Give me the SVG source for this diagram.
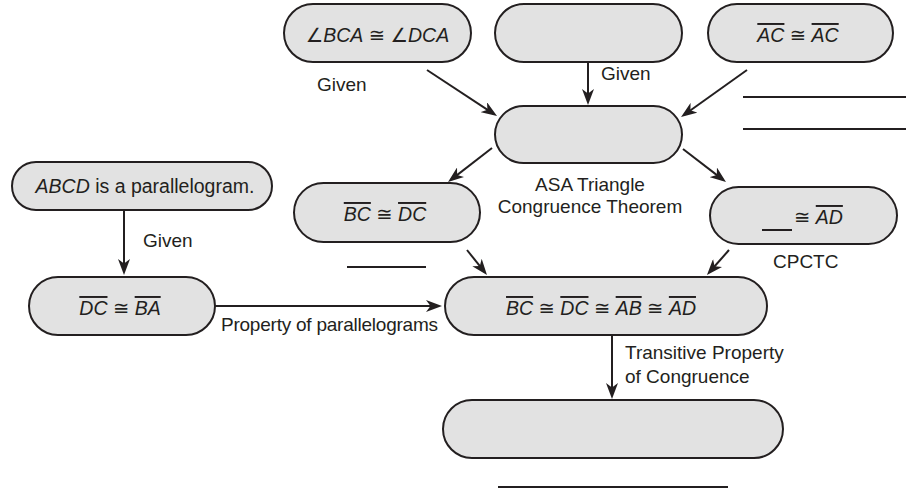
<svg xmlns="http://www.w3.org/2000/svg" width="910" height="491" viewBox="0 0 910 491">
<style>
.box{fill:#e2e2e2;stroke:#231f20;stroke-width:2}
.ln{stroke:#231f20;stroke-width:2;fill:none}
.ar{stroke:#231f20;stroke-width:2;fill:none;marker-end:url(#ah)}
.t{font-family:"Liberation Sans","DejaVu Sans",sans-serif;font-size:19.5px;fill:#231f20}
.lb{font-family:"Liberation Sans","DejaVu Sans",sans-serif;font-size:19px;fill:#231f20}
.i{font-style:italic}
.o{font-style:italic;text-decoration:overline}
</style>
<defs>
<marker id="ah" markerUnits="userSpaceOnUse" viewBox="0 0 16 12" markerWidth="16" markerHeight="12" refX="12" refY="6" orient="auto">
<path d="M0,0 L16,6 L0,12 L4.5,6 z" fill="#231f20"/>
</marker>
</defs>
<rect width="910" height="491" fill="#ffffff"/>

<g id="n1"><rect class="box" x="284" y="4" width="187" height="58" rx="29"/><text class="t" x="377.5" y="42" text-anchor="middle"><tspan class="i">∠BCA</tspan> ≅ <tspan class="i">∠DCA</tspan></text></g>
<g id="n2"><rect class="box" x="495" y="4" width="187" height="58" rx="29"/></g>
<g id="n3"><rect class="box" x="708" y="4" width="185" height="58" rx="29"/><text class="t" x="798" y="42" text-anchor="middle"><tspan class="o">AC</tspan> ≅ <tspan class="o">AC</tspan></text></g>
<g id="n4"><rect class="box" x="495" y="106" width="187" height="57" rx="28.5"/></g>
<g id="n5"><rect class="box" x="294" y="183" width="186" height="59" rx="29.5"/><text class="t" x="385" y="221" text-anchor="middle"><tspan class="o">BC</tspan> ≅ <tspan class="o">DC</tspan></text></g>
<g id="n6"><rect class="box" x="710" y="187" width="187" height="57" rx="28.5"/><line class="ln" x1="762" y1="230" x2="792" y2="230"/><text class="t" x="794" y="224"><tspan>≅ </tspan><tspan class="o">AD</tspan></text></g>
<g id="n7"><rect class="box" x="12" y="162" width="260" height="48" rx="24"/><text class="t" x="145" y="193" text-anchor="middle"><tspan class="i">ABCD</tspan> is a parallelogram.</text></g>
<g id="n8"><rect class="box" x="29" y="277" width="186" height="58" rx="29"/><text class="t" x="120" y="315" text-anchor="middle"><tspan class="o">DC</tspan> ≅ <tspan class="o">BA</tspan></text></g>
<g id="n9"><rect class="box" x="445" y="277" width="322" height="58" rx="29"/><text class="t" x="601" y="315" text-anchor="middle"><tspan class="o">BC</tspan> ≅ <tspan class="o">DC</tspan> ≅ <tspan class="o">AB</tspan> ≅ <tspan class="o">AD</tspan></text></g>
<g id="n10"><rect class="box" x="443" y="400" width="340" height="58" rx="29"/></g>

<g id="connectors">
<line class="ar" x1="427" y1="70" x2="493.7" y2="113.8"/>
<line class="ar" x1="588" y1="62" x2="588" y2="101"/>
<line class="ar" x1="747" y1="70" x2="684.3" y2="114.7"/>
<line class="ar" x1="492" y1="148" x2="451.2" y2="179.6"/>
<line class="ar" x1="683" y1="149" x2="722.8" y2="179.6"/>
<line class="ar" x1="467" y1="250" x2="484.5" y2="271.9"/>
<line class="ar" x1="729" y1="250" x2="709.6" y2="272"/>
<line class="ar" x1="124" y1="210" x2="124" y2="271"/>
<line class="ar" x1="215" y1="306" x2="438" y2="306"/>
<line class="ar" x1="612" y1="335" x2="612" y2="395"/>
</g>

<g id="labels">
<text class="lb" x="317" y="91">Given</text>
<text class="lb" x="601" y="80">Given</text>
<text class="lb" x="143" y="247">Given</text>
<text class="lb" x="590" y="191" text-anchor="middle">ASA Triangle</text>
<text class="lb" x="590" y="213" text-anchor="middle">Congruence Theorem</text>
<text class="lb" x="773" y="268">CPCTC</text>
<text class="lb" x="221" y="331" textLength="217">Property of parallelograms</text>
<text class="lb" x="625" y="359">Transitive Property</text>
<text class="lb" x="625" y="383">of Congruence</text>
</g>

<g id="blanks">
<line class="ln" x1="743" y1="97" x2="906" y2="97"/>
<line class="ln" x1="743" y1="129" x2="906" y2="129"/>
<line class="ln" x1="347" y1="267" x2="426" y2="267"/>
<line class="ln" x1="498" y1="487" x2="728" y2="487"/>
</g>
</svg>
